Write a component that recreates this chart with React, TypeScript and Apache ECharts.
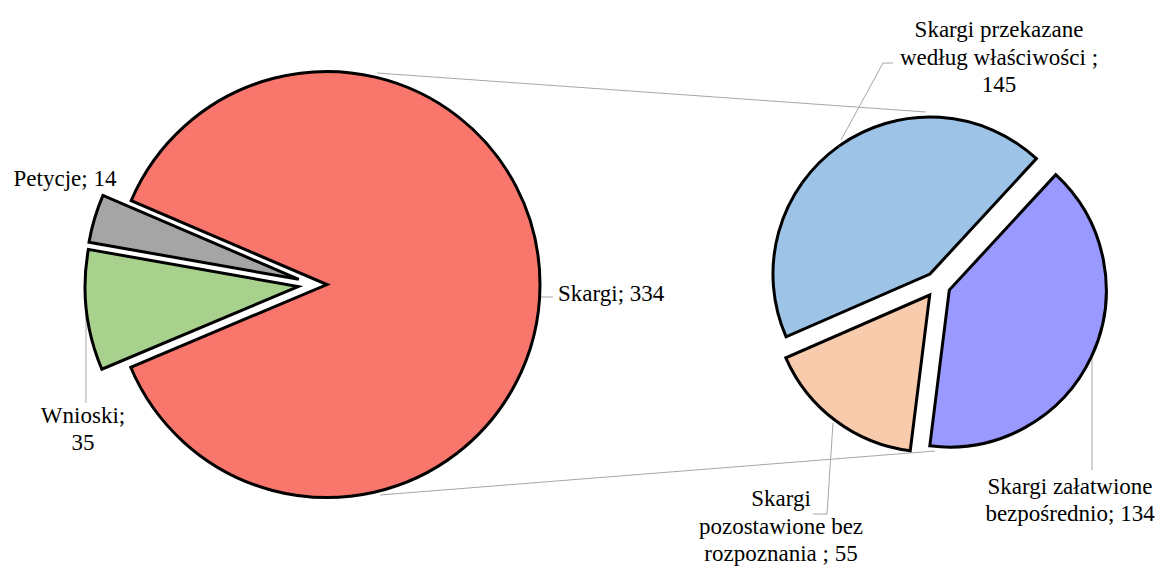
import React, { useEffect, useRef } from 'react';
import * as echarts from 'echarts';

// ---- data ----
const mainCategories = ['Skargi', 'Wnioski', 'Petycje'];
const mainValues = [334, 35, 14];
const mainColors = ['#F8766C', '#A9D18E', '#A5A5A5'];
const mainLabelSep = [' ', '\n', ' '];

const subCategories = [
  'Skargi przekazane\nwedług właściwości ',
  'Skargi\npozostawione bez\nrozpoznania ',
  'Skargi załatwione\nbezpośrednio',
];
const subValues = [145, 55, 134];
const subColors = ['#9DC3E6', '#F8CBAD', '#9999FF'];
const subLabelSep = ['\n', ' ', ' '];

// ---- layout ----
const FONT = '"Liberation Serif", "Times New Roman", serif';
const LEADER = '#A6A6A6';

type LabelPos = { x: number; y: number; align: string; line: number[][] | null };

const mainLabelPos: LabelPos[] = [
  { x: 558, y: 293, align: 'left', line: [[540, 297], [547, 297], [553, 297]] },
  { x: 83, y: 429, align: 'center', line: [[86, 307], [86, 355], [86, 403]] },
  { x: 65, y: 178, align: 'center', line: null },
];
const subLabelPos: LabelPos[] = [
  { x: 999, y: 57, align: 'center', line: [[841, 140], [883, 63], [893, 63]] },
  { x: 781, y: 526, align: 'center', line: [[833, 423], [827, 514], [813, 514]] },
  { x: 1070, y: 500, align: 'center', line: [[1092, 358], [1092, 414], [1092, 470]] },
];

function explodedCenters(
  values: number[],
  startAngle: number,
  clockwise: boolean,
  base: number[],
  offsets: number[]
) {
  const total = values.reduce((a, b) => a + b, 0);
  let a = startAngle;
  return values.map((v, i) => {
    const span = (v / total) * 360;
    const mid = clockwise ? a - span / 2 : a + span / 2;
    a = clockwise ? a - span : a + span;
    const r = (mid * Math.PI) / 180;
    return [base[0] + offsets[i] * Math.cos(r), base[1] - offsets[i] * Math.sin(r)];
  });
}

function sliceSeries(
  names: string[],
  values: number[],
  colors: string[],
  seps: string[],
  idx: number,
  center: number[],
  radius: number,
  startAngle: number,
  clockwise: boolean,
  pos: LabelPos
) {
  return {
    type: 'pie',
    silent: true,
    center,
    radius,
    startAngle,
    clockwise,
    avoidLabelOverlap: false,
    minAngle: 0,
    data: names.map((n, i) => {
      if (i !== idx) {
        return {
          name: n,
          value: values[i],
          itemStyle: { color: 'rgba(0,0,0,0)', borderWidth: 0 },
          label: { show: false },
          labelLine: { show: false },
        };
      }
      return {
        name: n,
        value: values[i],
        itemStyle: {
          color: colors[i],
          borderColor: '#000',
          borderWidth: 3,
          borderJoin: 'miter',
          borderMiterLimit: 4,
        },
        label: {
          show: true,
          position: 'outside',
          formatter: (p: any) => `${p.name};${seps[i]}${p.value}`,
          fontFamily: FONT,
          fontSize: 23,
          lineHeight: 27.5,
          color: '#000',
          align: pos.align,
        },
        labelLine: {
          show: !!pos.line,
          smooth: false,
          lineStyle: { color: LEADER, width: 1 },
        },
      };
    }),
    labelLayout: (p: any) => {
      if (p.dataIndex !== idx) return {};
      const o: any = { x: pos.x, y: pos.y, align: pos.align, verticalAlign: 'middle' };
      if (pos.line) o.labelLinePoints = pos.line;
      return o;
    },
  };
}

export default function App() {
  const ref = useRef<HTMLDivElement>(null);
  useEffect(() => {
    if (!ref.current) return;
    const chart = echarts.init(ref.current, undefined, { renderer: 'svg' });

    const mainStart = 156.8;
    const mainCenters = explodedCenters(mainValues, mainStart, true, [316, 284.5], [11, 18, 18]);
    const subStart = 47.3;
    const subCenters = explodedCenters(subValues, subStart, false, [937.5, 284.6], [13, 13, 13]);

    const series: any[] = [];
    mainCategories.forEach((_, i) => {
      series.push(
        sliceSeries(mainCategories, mainValues, mainColors, mainLabelSep, i, mainCenters[i], 213, mainStart, true, mainLabelPos[i])
      );
    });
    subCategories.forEach((_, i) => {
      series.push(
        sliceSeries(subCategories, subValues, subColors, subLabelSep, i, subCenters[i], 157, subStart, false, subLabelPos[i])
      );
    });

    chart.setOption({
      animation: false,
      backgroundColor: '#fff',
      graphic: [
        {
          type: 'line',
          z: 0,
          silent: true,
          shape: { x1: 377, y1: 73, x2: 926, y2: 112 },
          style: { stroke: LEADER, lineWidth: 1 },
        },
        {
          type: 'line',
          z: 0,
          silent: true,
          shape: { x1: 380, y1: 495, x2: 935, y2: 451 },
          style: { stroke: LEADER, lineWidth: 1 },
        },
      ],
      series,
    });
    return () => chart.dispose();
  }, []);
  return (
    <div
      ref={ref}
      style={{ position: 'absolute', left: 0, top: 0, width: 1158, height: 568, background: '#fff' }}
    />
  );
}
